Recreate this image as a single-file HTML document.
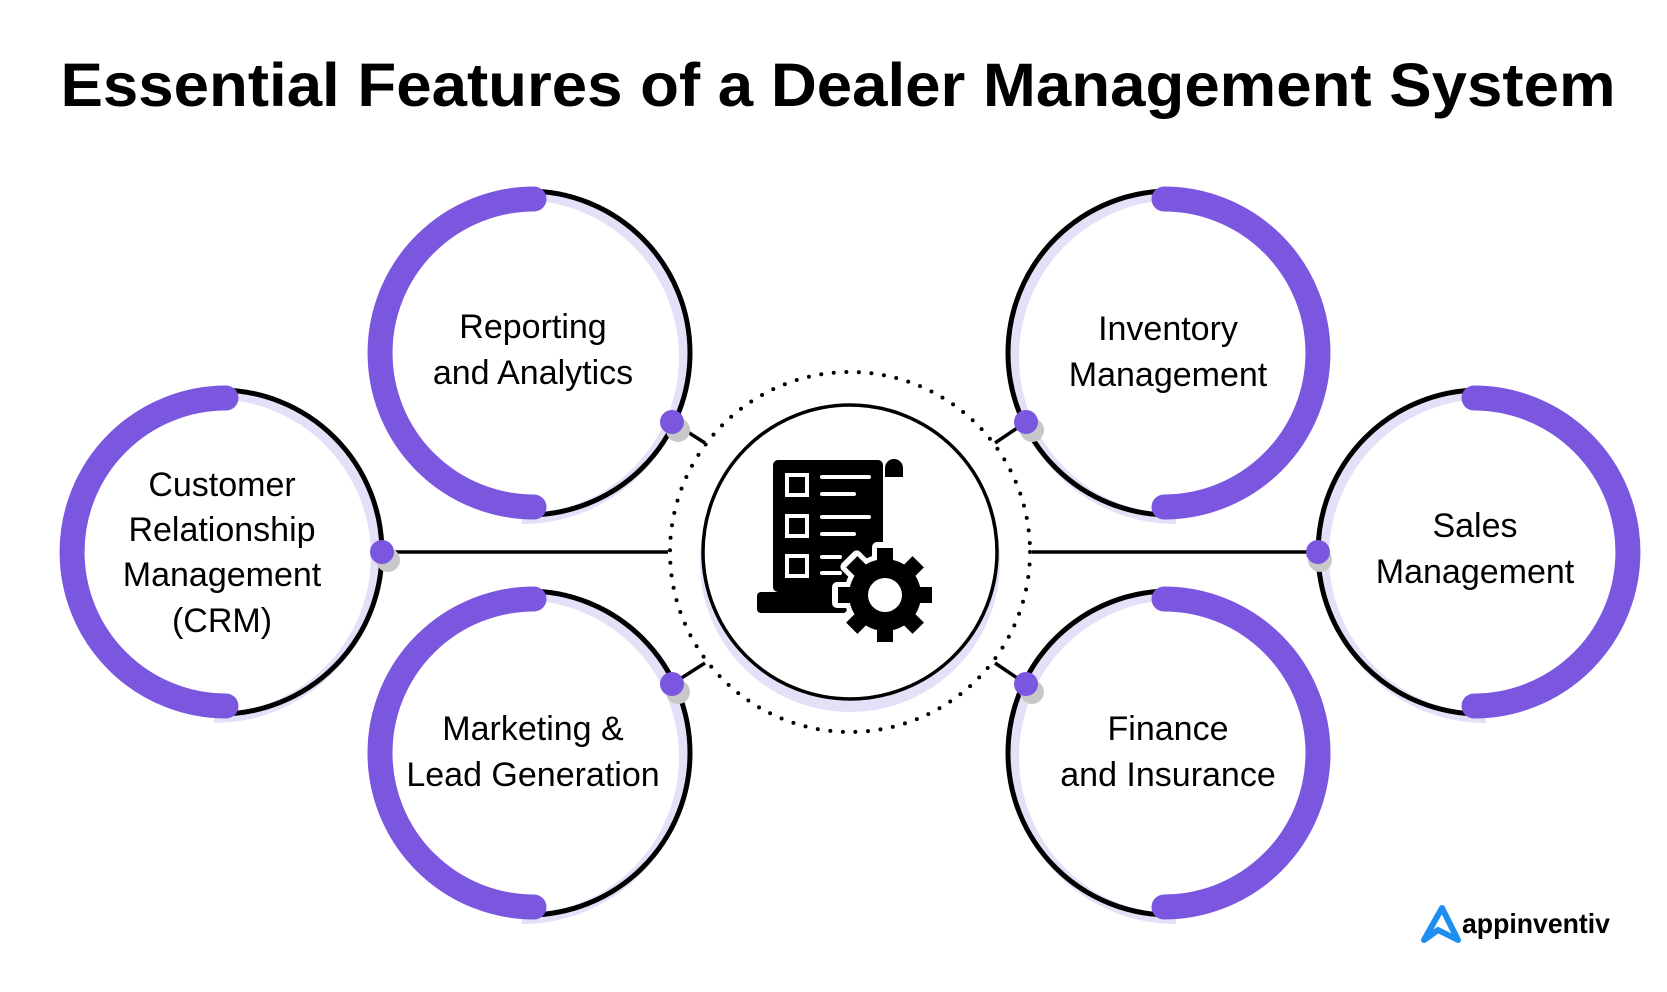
<!DOCTYPE html>
<html><head><meta charset="utf-8"><style>
html,body{margin:0;padding:0;background:#fff;}
svg{display:block;}
text{font-family:"Liberation Sans",Arial,sans-serif;}
</style></head><body>
<svg width="1667" height="992" viewBox="0 0 1667 992" xmlns="http://www.w3.org/2000/svg">
<text x="838" y="106" text-anchor="middle" font-size="61" font-weight="bold" fill="#000" textLength="1555" lengthAdjust="spacingAndGlyphs">Essential Features of a Dealer Management System</text>

<g stroke="#000" stroke-width="3.5" fill="none">
<line x1="380" y1="552" x2="668" y2="552"/>
<line x1="1320" y1="552" x2="1032" y2="552"/>
<line x1="672" y1="422" x2="705" y2="443"/>
<line x1="672" y1="684" x2="705" y2="663"/>
<line x1="1026" y1="422" x2="995" y2="443"/>
<line x1="1026" y1="684" x2="995" y2="663"/>
</g>

<circle cx="850" cy="552" r="180" fill="none" stroke="#000" stroke-width="4" stroke-dasharray="0 12.6" stroke-linecap="round"/>
<circle cx="850" cy="562" r="150" fill="#e4e0f8"/>
<circle cx="850" cy="552" r="147" fill="#fff" stroke="#000" stroke-width="3.5"/>

<g fill="#000">
<rect x="773" y="460" width="110" height="132" rx="5"/>
<path d="M885 477 V468 a9 9 0 0 1 18 0 V477 Z"/>
<rect x="757" y="592" width="90" height="21" rx="4"/>
</g>
<g fill="none" stroke="#fff" stroke-width="4">
<rect x="787" y="475" width="20" height="20"/>
<rect x="787" y="516" width="20" height="20"/>
<rect x="787" y="556" width="20" height="20"/>
</g>
<g stroke="#fff" stroke-width="4" stroke-linecap="round">
<line x1="822" y1="477" x2="869" y2="477"/>
<line x1="822" y1="494" x2="854" y2="494"/>
<line x1="822" y1="517" x2="869" y2="517"/>
<line x1="822" y1="534" x2="854" y2="534"/>
<line x1="822" y1="557" x2="840" y2="557"/>
<line x1="822" y1="573" x2="840" y2="573"/>
</g>
<g transform="translate(885,595)">
<g fill="#fff" stroke="#fff" stroke-width="10" stroke-linejoin="round">
<circle r="36"/>
<rect x="-8" y="-48" width="16" height="96"/><rect x="-48" y="-8" width="96" height="16"/>
<g transform="rotate(45)"><rect x="-8" y="-48" width="16" height="96"/><rect x="-48" y="-8" width="96" height="16"/></g>
</g>
<g fill="#000">
<circle r="36"/>
<rect x="-8" y="-47" width="16" height="94"/><rect x="-47" y="-8" width="94" height="16"/>
<g transform="rotate(45)"><rect x="-8" y="-47" width="16" height="94"/><rect x="-47" y="-8" width="94" height="16"/></g>
</g>
<circle r="17" fill="#fff"/>
</g>

<g fill="none">
<!-- CRM cx220 cy552 -->
<path d="M220 390 A162 162 0 0 1 220 714" stroke="#e4e0f8" stroke-width="10" transform="translate(-6,4)"/>
<path d="M220 390 A162 162 0 0 1 220 714" stroke="#000" stroke-width="5"/>
<path d="M226 398 A154 154 0 0 0 226 706" stroke="#7b57e0" stroke-width="25" stroke-linecap="round"/>
<!-- Reporting cx528 cy353 -->
<path d="M528 191 A162 162 0 0 1 528 515" stroke="#e4e0f8" stroke-width="10" transform="translate(-6,4)"/>
<path d="M528 191 A162 162 0 0 1 528 515" stroke="#000" stroke-width="5"/>
<path d="M534 199 A154 154 0 0 0 534 507" stroke="#7b57e0" stroke-width="25" stroke-linecap="round"/>
<!-- Marketing cx528 cy753 -->
<path d="M528 591 A162 162 0 0 1 528 915" stroke="#e4e0f8" stroke-width="10" transform="translate(-6,4)"/>
<path d="M528 591 A162 162 0 0 1 528 915" stroke="#000" stroke-width="5"/>
<path d="M534 599 A154 154 0 0 0 534 907" stroke="#7b57e0" stroke-width="25" stroke-linecap="round"/>
<!-- Inventory cx1170 cy353 -->
<path d="M1170 191 A162 162 0 0 0 1170 515" stroke="#e4e0f8" stroke-width="10" transform="translate(6,4)"/>
<path d="M1170 191 A162 162 0 0 0 1170 515" stroke="#000" stroke-width="5"/>
<path d="M1164 199 A154 154 0 0 1 1164 507" stroke="#7b57e0" stroke-width="25" stroke-linecap="round"/>
<!-- Finance -->
<path d="M1170 591 A162 162 0 0 0 1170 915" stroke="#e4e0f8" stroke-width="10" transform="translate(6,4)"/>
<path d="M1170 591 A162 162 0 0 0 1170 915" stroke="#000" stroke-width="5"/>
<path d="M1164 599 A154 154 0 0 1 1164 907" stroke="#7b57e0" stroke-width="25" stroke-linecap="round"/>
<!-- Sales cx1480 -->
<path d="M1480 390 A162 162 0 0 0 1480 714" stroke="#e4e0f8" stroke-width="10" transform="translate(6,4)"/>
<path d="M1480 390 A162 162 0 0 0 1480 714" stroke="#000" stroke-width="5"/>
<path d="M1474 398 A154 154 0 0 1 1474 706" stroke="#7b57e0" stroke-width="25" stroke-linecap="round"/>
</g>

<g fill="#c8c8c8">
<circle cx="388" cy="560" r="12"/><circle cx="1320" cy="560" r="12"/>
<circle cx="678" cy="430" r="12"/><circle cx="678" cy="692" r="12"/>
<circle cx="1032" cy="430" r="12"/><circle cx="1032" cy="692" r="12"/>
</g>
<g fill="#7b57e0">
<circle cx="382" cy="552" r="12"/><circle cx="1318" cy="552" r="12"/>
<circle cx="672" cy="422" r="12"/><circle cx="672" cy="684" r="12"/>
<circle cx="1026" cy="422" r="12"/><circle cx="1026" cy="684" r="12"/>
</g>

<g font-size="34" fill="#000" text-anchor="middle">
<text x="222" y="496">Customer</text>
<text x="222" y="541">Relationship</text>
<text x="222" y="586">Management</text>
<text x="222" y="632">(CRM)</text>
<text x="533" y="338">Reporting</text>
<text x="533" y="384">and Analytics</text>
<text x="533" y="740">Marketing &amp;</text>
<text x="533" y="786">Lead Generation</text>
<text x="1168" y="340">Inventory</text>
<text x="1168" y="386">Management</text>
<text x="1168" y="740">Finance</text>
<text x="1168" y="786">and Insurance</text>
<text x="1475" y="537">Sales</text>
<text x="1475" y="583">Management</text>
</g>

<path d="M1424 940 L1442 908 L1458 940 L1438 930 Z" fill="none" stroke="#1e8ff0" stroke-width="6" stroke-linejoin="round" stroke-linecap="round"/>
<text x="1462" y="933" font-size="28" fill="#000" font-weight="bold" textLength="148" lengthAdjust="spacingAndGlyphs">appinventiv</text>
</svg>
</body></html>
